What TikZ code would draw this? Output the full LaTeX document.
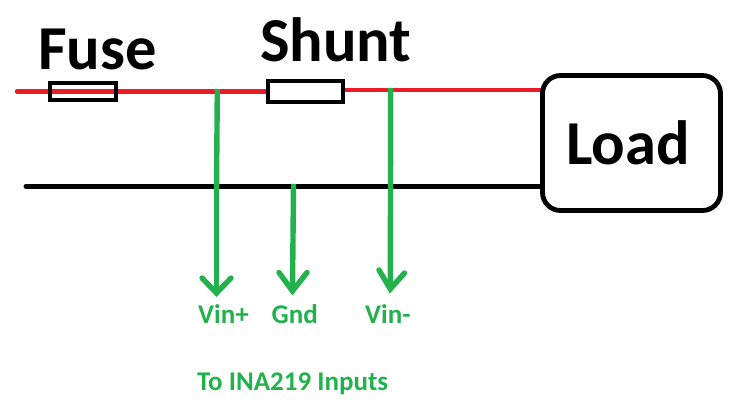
\documentclass[tikz,border=0pt]{standalone}
\usepackage{fontspec}
\setmainfont{Carlito}
\definecolor{wirered}{RGB}{237,28,36}
\definecolor{wiregreen}{RGB}{34,177,76}
\tikzset{
  x=1pt,y=-1pt,
  redwire/.style={draw=wirered,line width=4.6pt,line cap=round},
  blackwire/.style={draw=black,line width=5pt,line cap=round},
  greenwire/.style={draw=wiregreen,line width=5.4pt},
  greenhead/.style={draw=wiregreen,line width=5.4pt,line cap=round,line join=miter},
  partbox/.style={draw=black,line width=4.5pt,inner sep=0pt,rectangle},
  bigtext/.style={font=\fontsize{62.5}{62.5}\selectfont\bfseries,text=black,inner sep=0pt,anchor=base west},
  greentext/.style={font=\fontsize{27}{27}\selectfont\bfseries,text=wiregreen,inner sep=0pt,anchor=base west},
}
\begin{document}
\begin{tikzpicture}
\useasboundingbox[fill=white] (0,0) rectangle (752,419);
% named points
\coordinate (redstart) at (17,91.3);
\coordinate (blackstart) at (26,186.3);
\coordinate (redend) at (543,90);
\coordinate (blackend) at (543,186.3);
\coordinate (shuntout) at (343,90);
\coordinate (tapA) at (217.3,89);
\coordinate (tapAb) at (216.5,191);
\coordinate (tipA) at (216.5,293);
\coordinate (wingAl) at (202,278);
\coordinate (wingAr) at (231,278);
\coordinate (tapB) at (293.5,184);
\coordinate (tipB) at (292.5,291);
\coordinate (wingBl) at (279,272.5);
\coordinate (wingBr) at (307,272.5);
\coordinate (tapC) at (390.7,88);
\coordinate (tipC) at (390.3,289);
\coordinate (wingCl) at (379,270);
\coordinate (wingCr) at (404.5,273);
% wires
\draw[redwire] (redstart) -- (267,91.3);
\draw[redwire] (shuntout) -- (redend);
\draw[blackwire] (blackstart) -- (blackend);
% parts
\node[partbox,minimum width=66pt,minimum height=17pt] (fuse) at (83,91.5) {};
\node[partbox,fill=white,minimum width=75pt,minimum height=21pt] (shunt) at (305.5,91.5) {};
\node[draw=black,line width=4.8pt,fill=white,rounded corners=18pt,inner sep=0pt,minimum width=178pt,minimum height=135pt] (load) at (631.5,143) {};
% taps
\draw[greenwire] (tapA) -- (tapAb);
\draw[greenwire] (tapAb) -- (tipA);
\draw[greenhead] (wingAl) -- (tipA) -- (wingAr);
\draw[greenwire] (tapB) -- (tipB);
\draw[greenhead] (wingBl) -- (tipB) -- (wingBr);
\draw[greenwire] (tapC) -- (tipC);
\draw[greenhead] (wingCl) -- (tipC) -- (wingCr);
% labels
\node[bigtext] (fusetext) at (38,70) {Fuse};
\node[bigtext] (shunttext) at (260,62) {Shunt};
\node[bigtext] (loadtext) at (566,165) {Load};
\node[greentext] (vinp) at (198,324) {Vin+};
\node[greentext] (gnd) at (271.5,324) {Gnd};
\node[greentext] (vinm) at (365,324) {Vin-};
\node[greentext] (toina) at (197,390) {To INA219 Inputs};
\end{tikzpicture}
\end{document}
